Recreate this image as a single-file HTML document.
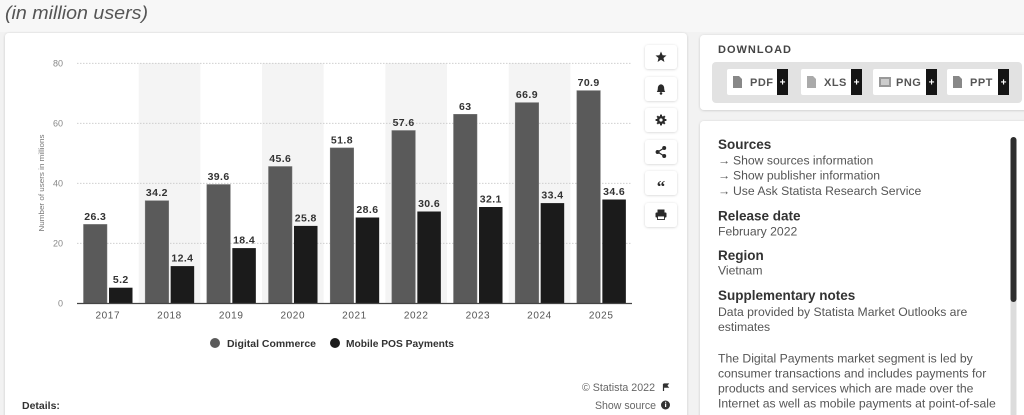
<!DOCTYPE html>
<html><head><meta charset="utf-8">
<style>
html,body{margin:0;padding:0;}
body{width:1024px;height:415px;overflow:hidden;background:#f2f2f2;font-family:"Liberation Sans",sans-serif;}
svg{position:absolute;left:0;top:0;}
</style></head>
<body>
<svg width="1024" height="415" viewBox="0 0 1024 415" xmlns="http://www.w3.org/2000/svg" font-family="Liberation Sans, sans-serif">
<defs>
<filter id="sh" x="-10%" y="-10%" width="120%" height="120%"><feDropShadow dx="0" dy="0.5" stdDeviation="1.2" flood-color="#000" flood-opacity="0.18"/></filter>
</defs>
<rect x="0" y="0" width="1024" height="32" fill="#f7f7f7"/>
<text x="5" y="19" font-size="18" font-style="italic" fill="#555" textLength="143" lengthAdjust="spacingAndGlyphs">(in million users)</text>

<rect x="5" y="33" width="682" height="400" rx="4" fill="#fff" filter="url(#sh)"/>
<rect x="700" y="35" width="340" height="75" rx="4" fill="#fff" filter="url(#sh)"/>
<rect x="700" y="121" width="340" height="310" rx="4" fill="#fff" filter="url(#sh)"/>

<g fill="#f4f4f4">
<rect x="138.67" y="63" width="61.67" height="240.3"/>
<rect x="262.01" y="63" width="61.67" height="240.3"/>
<rect x="385.35" y="63" width="61.67" height="240.3"/>
<rect x="508.69" y="63" width="61.67" height="240.3"/>
</g>
<g stroke="#c8c8c8" stroke-width="0.8" stroke-dasharray="1.5,1.5">
<line x1="77" y1="63.3" x2="632" y2="63.3"/>
<line x1="77" y1="123.3" x2="632" y2="123.3"/>
<line x1="77" y1="183.3" x2="632" y2="183.3"/>
<line x1="77" y1="243.3" x2="632" y2="243.3"/>
</g>
<g font-size="9" fill="#888" text-anchor="end">
<text x="63" y="66.5">80</text>
<text x="63" y="126.5">60</text>
<text x="63" y="186.5">40</text>
<text x="63" y="246.5">20</text>
<text x="63" y="306.5">0</text>
</g>
<text transform="translate(44,183) rotate(-90)" font-size="7.5" fill="#777" text-anchor="middle" textLength="97" lengthAdjust="spacingAndGlyphs">Number of users in millions</text>

<g fill="#5a5a5a" stroke="#777" stroke-width="0.5">
<rect x="83.5" y="224.4" width="23.5" height="78.9"/>
<rect x="145.17" y="200.7" width="23.5" height="102.6"/>
<rect x="206.84" y="184.5" width="23.5" height="118.8"/>
<rect x="268.51" y="166.5" width="23.5" height="136.8"/>
<rect x="330.18" y="147.9" width="23.5" height="155.4"/>
<rect x="391.85" y="130.5" width="23.5" height="172.8"/>
<rect x="453.52" y="114.3" width="23.5" height="189"/>
<rect x="515.19" y="102.6" width="23.5" height="200.7"/>
<rect x="576.86" y="90.6" width="23.5" height="212.7"/>
</g>
<g fill="#1b1b1b">
<rect x="109" y="287.7" width="23.5" height="15.6"/>
<rect x="170.67" y="266.1" width="23.5" height="37.2"/>
<rect x="232.34" y="248.1" width="23.5" height="55.2"/>
<rect x="294.01" y="225.9" width="23.5" height="77.4"/>
<rect x="355.68" y="217.5" width="23.5" height="85.8"/>
<rect x="417.35" y="211.5" width="23.5" height="91.8"/>
<rect x="479.02" y="207" width="23.5" height="96.3"/>
<rect x="540.69" y="203.1" width="23.5" height="100.2"/>
<rect x="602.36" y="199.5" width="23.5" height="103.8"/>
</g>
<line x1="77" y1="303.5" x2="632" y2="303.5" stroke="#444" stroke-width="1.2"/>

<g font-size="10.5" font-weight="bold" fill="#333" text-anchor="middle" letter-spacing="0.4">
<text x="95.25" y="220">26.3</text>
<text x="156.92" y="196.2">34.2</text>
<text x="218.59" y="180">39.6</text>
<text x="280.26" y="162">45.6</text>
<text x="341.93" y="143.4">51.8</text>
<text x="403.6" y="126">57.6</text>
<text x="465.27" y="109.8">63</text>
<text x="526.94" y="98.1">66.9</text>
<text x="588.61" y="86.1">70.9</text>
<text x="120.75" y="283.2">5.2</text>
<text x="182.42" y="261.6">12.4</text>
<text x="244.09" y="243.6">18.4</text>
<text x="305.76" y="221.4">25.8</text>
<text x="367.43" y="213">28.6</text>
<text x="429.1" y="207">30.6</text>
<text x="490.77" y="202.5">32.1</text>
<text x="552.44" y="198.6">33.4</text>
<text x="614.11" y="195">34.6</text>
</g>
<g font-size="10" fill="#555" text-anchor="middle" letter-spacing="0.6">
<text x="107.8" y="318.5">2017</text>
<text x="169.5" y="318.5">2018</text>
<text x="231.2" y="318.5">2019</text>
<text x="292.8" y="318.5">2020</text>
<text x="354.5" y="318.5">2021</text>
<text x="416.2" y="318.5">2022</text>
<text x="477.9" y="318.5">2023</text>
<text x="539.5" y="318.5">2024</text>
<text x="601.2" y="318.5">2025</text>
</g>
<circle cx="215" cy="343" r="5" fill="#5a5a5a"/>
<text x="227" y="347" font-size="10.5" font-weight="bold" fill="#333" textLength="89" lengthAdjust="spacingAndGlyphs">Digital Commerce</text>
<circle cx="335" cy="343" r="5" fill="#1b1b1b"/>
<text x="346" y="347" font-size="10.5" font-weight="bold" fill="#333" textLength="108" lengthAdjust="spacingAndGlyphs">Mobile POS Payments</text>

<text x="582" y="391" font-size="10.7" fill="#666" textLength="73" lengthAdjust="spacingAndGlyphs">© Statista 2022</text>
<path d="M663.5 384 v7 M663.5 384 h4.5 l-1.3 1.6 l1.3 1.6 h-4.5" stroke="#333" stroke-width="1.2" fill="#333"/>
<text x="22" y="409" font-size="10.5" font-weight="bold" fill="#333">Details:</text>
<text x="595" y="409" font-size="10.7" fill="#666" textLength="61" lengthAdjust="spacingAndGlyphs">Show source</text>
<circle cx="665.5" cy="405" r="4.5" fill="#333"/>
<rect x="665" y="403.5" width="1.2" height="3.5" fill="#fff"/>
<rect x="665" y="401.8" width="1.2" height="1" fill="#fff"/>

<g fill="#fff" filter="url(#sh)">
<rect x="645" y="45" width="32" height="24" rx="3"/>
<rect x="645" y="77" width="32" height="24" rx="3"/>
<rect x="645" y="108" width="32" height="24" rx="3"/>
<rect x="645" y="140" width="32" height="24" rx="3"/>
<rect x="645" y="171" width="32" height="24" rx="3"/>
<rect x="645" y="203" width="32" height="24" rx="3"/>
</g>
<g fill="#2a2a2a" stroke="none">
<polygon points="661,51.5 662.6,55.2 666.5,55.5 663.5,58 664.4,62 661,59.8 657.6,62 658.5,58 655.5,55.5 659.4,55.2"/>
<path d="M656.8 92 q1-1.2 1-3.4 q0-3.8 3.2-4.3 q3.2 0.5 3.2 4.3 q0 2.2 1 3.4 z"/>
<circle cx="661" cy="93.4" r="1.3"/>
<g stroke="#2a2a2a" stroke-width="2"><line x1="661" y1="114.6" x2="661" y2="125.4"/><line x1="655.6" y1="120" x2="666.4" y2="120"/><line x1="657.2" y1="116.2" x2="664.8" y2="123.8"/><line x1="664.8" y1="116.2" x2="657.2" y2="123.8"/></g>
<circle cx="661" cy="120" r="4"/>
<circle cx="661" cy="120" r="1.6" fill="#fff"/>
<circle cx="664.2" cy="148" r="2"/><circle cx="657.6" cy="152" r="2"/><circle cx="664.2" cy="156" r="2"/>
<path d="M664.2 148 L657.6 152 L664.2 156" stroke="#2a2a2a" stroke-width="1.2" fill="none"/>
<text x="661" y="192" font-size="17" font-weight="bold" text-anchor="middle" font-family="Liberation Serif, serif">“</text>
<rect x="657.5" y="209.5" width="7" height="3"/>
<rect x="655.5" y="212.5" width="11" height="5" rx="1"/>
<rect x="657.5" y="216" width="7" height="3.5" fill="#fff" stroke="#2a2a2a" stroke-width="0.9"/>
</g>

<text x="718" y="53" font-size="11" font-weight="bold" fill="#444" letter-spacing="1" textLength="74" lengthAdjust="spacingAndGlyphs">DOWNLOAD</text>
<rect x="712" y="62" width="310" height="41" rx="4" fill="#e2e2e2"/>
<g>
<rect x="727" y="69" width="61" height="26" rx="2" fill="#fff"/><rect x="777" y="69" width="11" height="26" fill="#151515"/>
<rect x="801" y="69" width="61" height="26" rx="2" fill="#fff"/><rect x="851" y="69" width="11" height="26" fill="#151515"/>
<rect x="873" y="69" width="64" height="26" rx="2" fill="#fff"/><rect x="926" y="69" width="11" height="26" fill="#151515"/>
<rect x="947" y="69" width="62" height="26" rx="2" fill="#fff"/><rect x="998" y="69" width="11" height="26" fill="#151515"/>
</g>
<g fill="#fff" font-size="10" font-weight="bold" text-anchor="middle">
<text x="782.5" y="85.5">+</text><text x="856.5" y="85.5">+</text><text x="931.5" y="85.5">+</text><text x="1003.5" y="85.5">+</text>
</g>
<g fill="#888">
<path d="M733 76 h6 l3 3 v9 h-9 z"/>
<path d="M807 76 h6 l3 3 v9 h-9 z" fill="#aaa"/>
<rect x="879" y="77" width="12" height="10" fill="#999"/><rect x="881" y="79" width="8" height="6" fill="#ccc"/>
<path d="M953 76 h6 l3 3 v9 h-9 z"/>
</g>
<g font-size="11" font-weight="bold" fill="#555" letter-spacing="0.5">
<text x="750" y="86">PDF</text>
<text x="824" y="86">XLS</text>
<text x="896" y="86">PNG</text>
<text x="970" y="86">PPT</text>
</g>

<rect x="1010.5" y="137" width="6" height="280" rx="3" fill="#dcdcdc"/>
<rect x="1010.5" y="137" width="6" height="165" rx="3" fill="#2e2e2e"/>
<g font-size="13.5" font-weight="bold" fill="#333">
<text x="718" y="149">Sources</text>
<text x="718" y="220.5">Release date</text>
<text x="718" y="260">Region</text>
<text x="718" y="300">Supplementary notes</text>
</g>
<g font-size="12.2" fill="#555">
<text x="718" y="164.5">→</text><text x="733" y="164.5">Show sources information</text>
<text x="718" y="179.5">→</text><text x="733" y="179.5">Show publisher information</text>
<text x="718" y="195">→</text><text x="733" y="195">Use Ask Statista Research Service</text>
<text x="718" y="235.5">February 2022</text>
<text x="718" y="274.5">Vietnam</text>
<text x="718" y="316">Data provided by Statista Market Outlooks are</text>
<text x="718" y="331">estimates</text>
<text x="718" y="362.5">The Digital Payments market segment is led by</text>
<text x="718" y="377.5">consumer transactions and includes payments for</text>
<text x="718" y="392.5">products and services which are made over the</text>
<text x="718" y="407.5">Internet as well as mobile payments at point-of-sale</text>
</g>
</svg>
</body></html>
